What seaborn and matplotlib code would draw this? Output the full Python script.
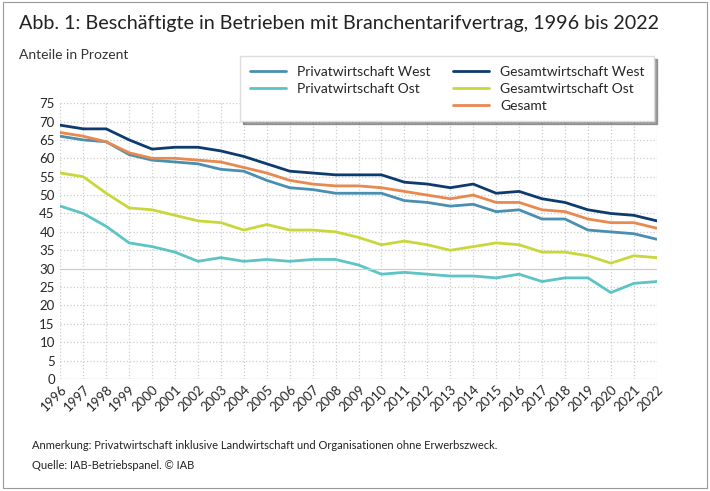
import numpy as np
import pandas as pd
import matplotlib.pyplot as plt
import seaborn as sns
from matplotlib.patches import Rectangle
from matplotlib.lines import Line2D

years = list(range(1996, 2023))
pw_west = [66, 65, 64.5, 61, 59.5, 59, 58.5, 57, 56.5, 54, 52, 51.5, 50.5, 50.5, 50.5, 48.5, 48, 47, 47.5, 45.5, 46, 43.5, 43.5, 40.5, 40, 39.5, 38]
pw_ost = [47, 45, 41.5, 37, 36, 34.5, 32, 33, 32, 32.5, 32, 32.5, 32.5, 31, 28.5, 29, 28.5, 28, 28, 27.5, 28.5, 26.5, 27.5, 27.5, 23.5, 26, 26.5]
gw_west = [69, 68, 68, 65, 62.5, 63, 63, 62, 60.5, 58.5, 56.5, 56, 55.5, 55.5, 55.5, 53.5, 53, 52, 53, 50.5, 51, 49, 48, 46, 45, 44.5, 43]
gw_ost = [56, 55, 50.5, 46.5, 46, 44.5, 43, 42.5, 40.5, 42, 40.5, 40.5, 40, 38.5, 36.5, 37.5, 36.5, 35, 36, 37, 36.5, 34.5, 34.5, 33.5, 31.5, 33.5, 33]
gesamt = [67, 66, 64.5, 61.5, 60, 60, 59.5, 59, 57.5, 56, 54, 53, 52.5, 52.5, 52, 51, 50, 49, 50, 48, 48, 46, 45.5, 43.5, 42.5, 42.5, 41]

series = [
    ("Privatwirtschaft West", pw_west, "#4a8fb0"),
    ("Privatwirtschaft Ost", pw_ost, "#5cc4c4"),
    ("Gesamtwirtschaft West", gw_west, "#0d3b6e"),
    ("Gesamtwirtschaft Ost", gw_ost, "#c8d83a"),
    ("Gesamt", gesamt, "#e8894f"),
]

sns.set_style("white")
plt.rcParams['font.family'] = ['Lato', 'DejaVu Sans']

fig = plt.figure(figsize=(7.1, 4.91), dpi=100)
ax = fig.add_axes([0.085, 0.228, 0.84, 0.562])

for name, vals, col in series:
    sns.lineplot(x=years, y=vals, ax=ax, color=col, linewidth=2, label=name)

ax.set_xlim(1996, 2022)
ax.set_ylim(0, 75)
ax.set_xticks(years)
ax.set_xticklabels([str(y) for y in years], rotation=45, ha='right', rotation_mode='anchor', fontsize=9.5)
ax.set_yticks(range(0, 80, 5))
ax.tick_params(axis='y', labelsize=9.5, length=0, pad=4)
ax.tick_params(axis='x', length=0, pad=3)
ax.grid(True, color='#cccccc', linestyle=':', linewidth=0.9)
for s in ax.spines.values():
    s.set_visible(False)
ax.axhline(0, color='#bbbbbb', linewidth=0.8)
ax.axhline(30, color='#cccccc', linewidth=0.8)
ax.set_xlabel('')
ax.set_ylabel('')

handles, labels = ax.get_legend_handles_labels()
blank = Line2D([], [], color='none')
hs = [handles[0], handles[1], blank, handles[2], handles[3], handles[4]]
ls = [labels[0], labels[1], '', labels[2], labels[3], labels[4]]
leg = ax.legend(hs, ls, ncol=2,
                loc='upper left', bbox_to_anchor=(0.29, 1.195), frameon=True, shadow=True,
                fancybox=False, fontsize=10, handlelength=2.6, columnspacing=1.6,
                borderpad=0.7, labelspacing=0.35)
leg.get_frame().set_edgecolor('#dddddd')

fig.text(0.027, 0.94, "Abb. 1: Beschäftigte in Betrieben mit Branchentarifvertrag, 1996 bis 2022", fontsize=14.2, color='#222222')
fig.text(0.027, 0.88, "Anteile in Prozent", fontsize=10, color='#333333')
fig.text(0.045, 0.085, "Anmerkung: Privatwirtschaft inklusive Landwirtschaft und Organisationen ohne Erwerbszweck.", fontsize=8, color='#222222')
fig.text(0.045, 0.045, "Quelle: IAB-Betriebspanel. © IAB", fontsize=8, color='#222222')
fig.patches.append(Rectangle((0.004, 0.006), 0.992, 0.99, transform=fig.transFigure, fill=False, edgecolor='#999999', linewidth=0.8))

fig.savefig('out.png', dpi=100)
